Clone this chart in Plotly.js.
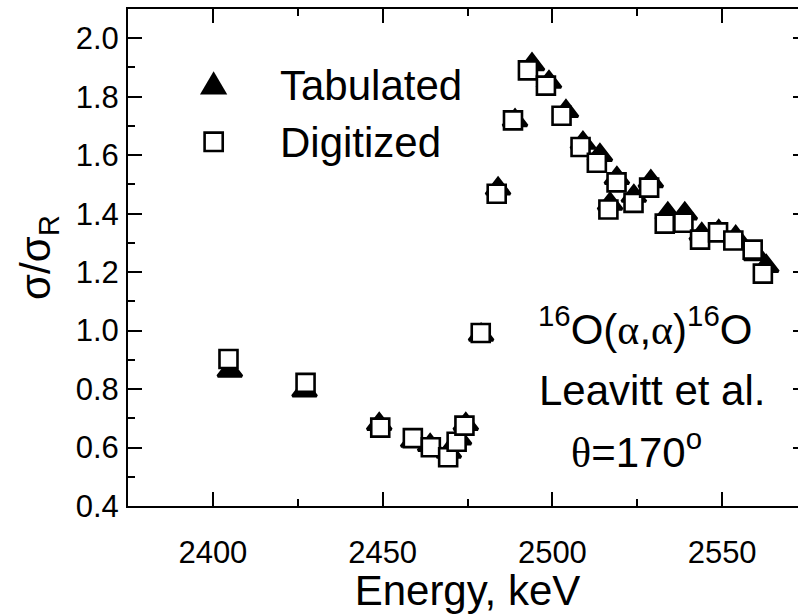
<!DOCTYPE html>
<html>
<head>
<meta charset="utf-8">
<script src="https://cdn.plot.ly/plotly-3.0.1.min.js"></script>
<style>
  html, body { margin: 0; padding: 0; overflow: hidden; background: #fff; }
  #chart { width: 830px; height: 614px; }
</style>
</head>
<body>
<div id="chart"></div>
<script>
// 16O(alpha,alpha)16O elastic scattering ratio, Leavitt et al., theta = 170 deg
const tabEnergy = [2405, 2427, 2449, 2459, 2464, 2469.5, 2472.5, 2474.5, 2479,
  2484, 2489, 2494, 2499, 2504, 2509, 2514, 2517, 2519, 2524, 2529, 2534, 2539,
  2544, 2549, 2554, 2560, 2563];
const tabRatio = [0.862, 0.794, 0.68, 0.622, 0.608, 0.585, 0.63, 0.68, 0.985,
  1.485, 1.719, 1.91, 1.85, 1.75, 1.642, 1.60, 1.433, 1.521, 1.46, 1.51, 1.40, 1.40,
  1.33, 1.34, 1.32, 1.26, 1.22];

const digEnergy = [2404.6, 2427.3, 2449.3, 2458.9, 2464.2, 2469.3, 2471.8, 2474.1, 2478.9,
  2483.6, 2488.4, 2492.8, 2498.1, 2502.7, 2508.3, 2513.1, 2516.5, 2518.9, 2523.9, 2528.5,
  2533.1, 2538.6, 2543.5, 2548.8, 2553.3, 2559.0, 2562.0];
const digRatio = [0.903, 0.821, 0.668, 0.632, 0.601, 0.567, 0.620, 0.675, 0.992,
  1.468, 1.719, 1.890, 1.838, 1.735, 1.628, 1.574, 1.414, 1.507, 1.437, 1.489,
  1.366, 1.369, 1.311, 1.336, 1.308, 1.277, 1.195];

const xTickStep = 50, xMinorStep = 25;
const yTickStep = 0.2, yMinorStep = 0.1;

const FONT = 'Liberation Sans, Arial, sans-serif';
const SERIF = 'Liberation Serif, Times New Roman, serif';
const TEXT_SIZE = 42;

const traces = [
  {
    x: tabEnergy, y: tabRatio, name: 'Tabulated', type: 'scatter', mode: 'markers',
    marker: { symbol: 'triangle-up', size: 21, color: '#000', line: { width: 3, color: '#000' } },
    showlegend: false, hoverinfo: 'x+y'
  },
  {
    x: digEnergy, y: digRatio, name: 'Digitized', type: 'scatter', mode: 'markers',
    marker: { symbol: 'square', size: 18, color: '#fff', line: { width: 2.6, color: '#000' } },
    showlegend: false, hoverinfo: 'x+y'
  }
];

const axisCommon = {
  showline: true, linecolor: '#000', linewidth: 2,
  ticks: 'inside', tickwidth: 2, tickcolor: '#000', ticklen: 14,
  mirror: 'ticks', showgrid: false, zeroline: false,
  tickfont: { family: FONT, size: 31, color: '#000' }
};

// Greek letters set in a serif face
const sym = (t) => "<span style='font-family:" + SERIF + "'>" + t + '</span>';

const layout = {
  width: 830, height: 614,
  margin: { l: 128, r: 23, t: 9, b: 108 },
  paper_bgcolor: '#fff', plot_bgcolor: '#fff',
  font: { family: FONT, color: '#000' },
  xaxis: Object.assign({}, axisCommon, {
    range: [2375, 2575], tick0: 2400, dtick: xTickStep,
    minor: { ticks: 'inside', ticklen: 7, tickwidth: 2, tickcolor: '#000', dtick: xMinorStep, tick0: 2400, showgrid: false },
    ticklabelstandoff: 18,
    title: { text: 'Energy, keV', font: { family: FONT, size: TEXT_SIZE, color: '#000' }, standoff: 6 }
  }),
  yaxis: Object.assign({}, axisCommon, {
    range: [0.4, 2.1], tick0: 0.4, dtick: yTickStep, tickformat: '.1f',
    minor: { ticks: 'inside', ticklen: 7, tickwidth: 2, tickcolor: '#000', dtick: yMinorStep, tick0: 0.4, showgrid: false },
    ticklabelstandoff: 1,
    title: { text: 'σ/σ<sub>R</sub>', font: { family: FONT, size: TEXT_SIZE, color: '#000' }, standoff: 12 }
  }),
  // legend glyphs (paper space of the plot area)
  shapes: [
    { type: 'path', xref: 'paper', yref: 'paper',
      path: 'M 0.1060 0.8278 L 0.1462 0.8278 L 0.1261 0.8746 Z',
      fillcolor: '#000', line: { width: 0 } },
    { type: 'rect', xref: 'paper', yref: 'paper',
      x0: 0.1128, x1: 0.1395, y0: 0.7142, y1: 0.7513,
      fillcolor: '#fff', line: { color: '#000', width: 2.6 } }
  ],
  annotations: [
    { xref: 'paper', yref: 'paper', x: 0.221, y: 0.8457, xanchor: 'left', yanchor: 'middle',
      text: 'Tabulated', showarrow: false, font: { family: FONT, size: TEXT_SIZE, color: '#000' } },
    { xref: 'paper', yref: 'paper', x: 0.221, y: 0.731, xanchor: 'left', yanchor: 'middle',
      text: 'Digitized', showarrow: false, font: { family: FONT, size: TEXT_SIZE, color: '#000' } },
    { xref: 'paper', yref: 'paper', x: 0.761, y: 0.362, xanchor: 'center', yanchor: 'middle',
      text: '<sup>16</sup>O(' + sym('α') + ',' + sym('α') + ')<sup>16</sup>O',
      showarrow: false, font: { family: FONT, size: TEXT_SIZE, color: '#000' } },
    { xref: 'paper', yref: 'paper', x: 0.772, y: 0.232, xanchor: 'center', yanchor: 'middle',
      text: 'Leavitt et al.', showarrow: false, font: { family: FONT, size: TEXT_SIZE, color: '#000' } },
    { xref: 'paper', yref: 'paper', x: 0.749, y: 0.115, xanchor: 'center', yanchor: 'middle',
      text: sym('θ') + '=170<sup>o</sup>', showarrow: false, font: { family: FONT, size: TEXT_SIZE, color: '#000' } }
  ]
};

Plotly.newPlot('chart', traces, layout, { displayModeBar: false, staticPlot: true });
</script>
</body>
</html>
